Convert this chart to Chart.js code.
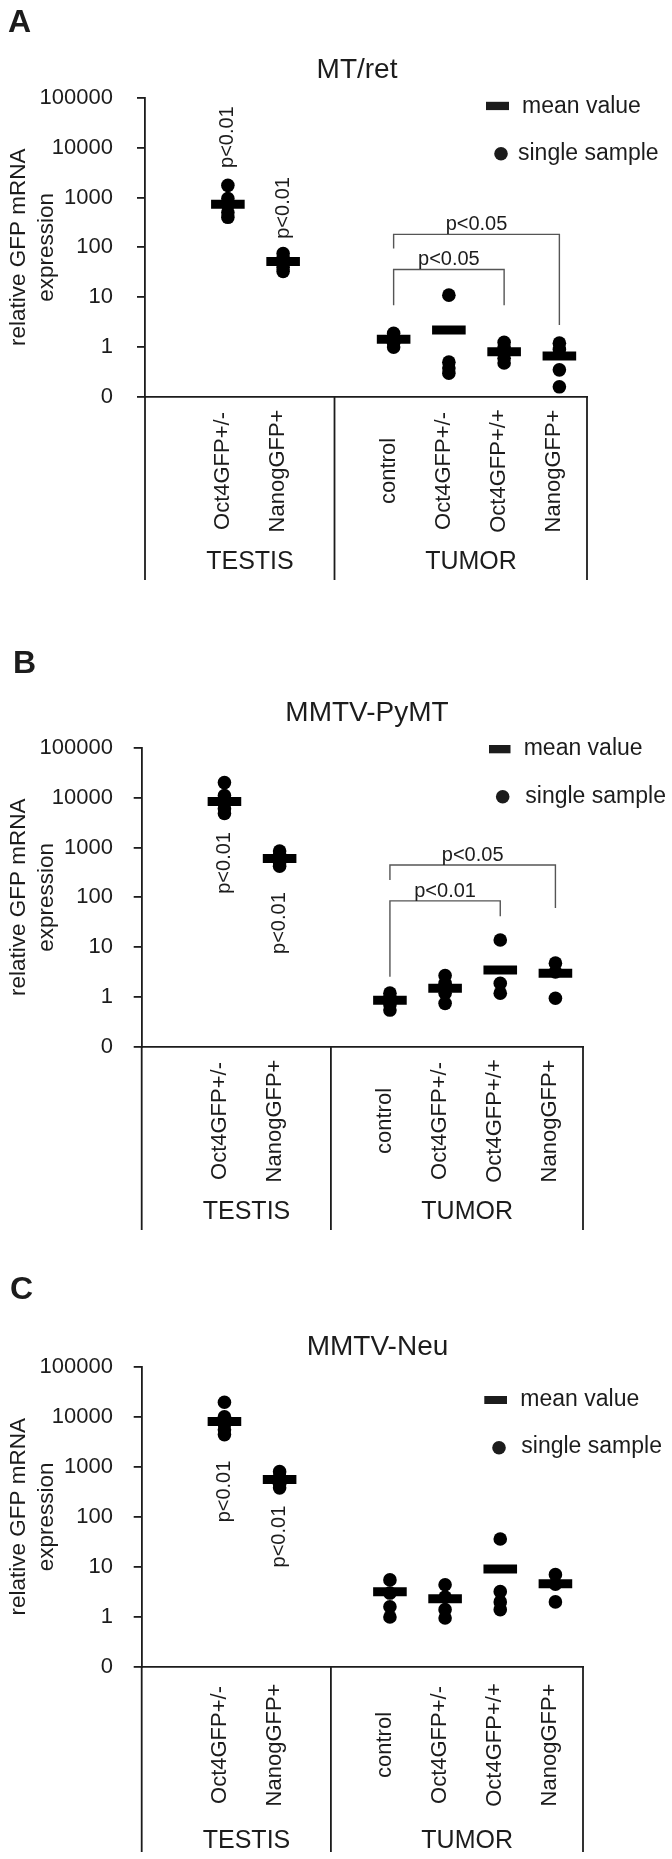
<!DOCTYPE html>
<html>
<head>
<meta charset="utf-8">
<script src="https://cdn.jsdelivr.net/npm/chart.js@4.4.1/dist/chart.umd.min.js"></script>
<style>
  html, body { margin: 0; padding: 0; background: #fff; }
  .panel { position: relative; width: 672px; }
  canvas { display: block; }
</style>
</head>
<body>
<div class="panel" style="height:620px"><canvas id="chart-a"></canvas></div>
<div class="panel" style="height:620px"><canvas id="chart-b"></canvas></div>
<div class="panel" style="height:619px"><canvas id="chart-c"></canvas></div>
<script>
// ---- data ----
var CATEGORIES = ["Oct4GFP+/-", "NanogGFP+", "control", "Oct4GFP+/-", "Oct4GFP+/+", "NanogGFP+"];
var GROUPS = ["TESTIS", "TUMOR"];
var Y_TICKS = [0.1, 1, 10, 100, 1000, 10000, 100000];
var Y_TICK_LABELS = ["0", "1", "10", "100", "1000", "10000", "100000"];
var Y_TITLE = ["relative GFP mRNA", "expression"];
var LEGEND_LABELS = ["mean value", "single sample"];

// single samples per category (same order as CATEGORIES)
var MTRET_SAMPLES = [[1750, 950, 700, 500, 400], [75, 60, 50, 40, 33], [1.9, 1.6, 1.4, 1.2, 1.0], [11, 0.5, 0.38, 0.3], [1.25, 1.0, 0.8, 0.6, 0.48], [1.2, 0.9, 0.35, 0.16]];
var MTRET_MEANS = [730, 52, 1.43, 2.2, 0.81, 0.66];
var PYMT_SAMPLES = [[20000, 11000, 8000, 6000, 4800], [850, 700, 600, 500, 420], [1.2, 1.0, 0.7, 0.55], [2.7, 1.9, 1.2, 0.75], [14, 1.9, 1.2], [4.8, 3.2, 0.95]];
var PYMT_MEANS = [8300, 600, 0.87, 1.5, 3.5, 3.0];
var NEU_SAMPLES = [[19500, 10000, 7000, 5500, 4400], [800, 650, 520, 450, 380], [5.5, 3.0, 1.6, 1.0], [4.4, 2.5, 1.4, 0.95], [36, 3.2, 2.0, 1.4], [7.0, 4.5, 2.0]];
var NEU_MEANS = [8000, 560, 3.2, 2.3, 9.1, 4.6];

// significance marks
var TESTIS_P = ["p<0.01", "p<0.01"];
var MTRET_BRACKETS = [
  { from: 2, to: 5, text: "p<0.05", top: 182, left: 95, right: 2.77 },
  { from: 2, to: 4, text: "p<0.05", top: 36, left: 6.9, right: 6.9 }
];
var PYMT_BRACKETS = [
  { from: 2, to: 5, text: "p<0.05", top: 444, left: 222, right: 61 },
  { from: 2, to: 4, text: "p<0.01", top: 85, left: 2.57, right: 42 }
];

// ---- layout ----
var SLOTS = [1, 2, 4, 5, 6, 7];
var GROUP_SLOTS = [1.4, 5.4];
var DIVIDER_SLOT = 2.93;
var INK = "#1c1c1c";
var BRACKET = "#555555";
var AXIS_W = 1.8;
var FONT = "'Liberation Sans', Arial, Helvetica, sans-serif";

var PANELS = [
  { id: "chart-a", letter: "A", title: "MT/ret", samples: MTRET_SAMPLES, means: MTRET_MEANS,
    pPos: [16200, 617], brackets: MTRET_BRACKETS,
    L: { h: 620, left: 145, right: 587, top: 97.7, bottom: 397, tickPad: 24,
         letter: [8, 32], title: [357, 78], labelMid: 74, groupMid: 165, frame: 183,
         rect: [486, 101.8, 23, 8.3], text1: [522, 113], dot: [501, 153.7], text2: [518, 159.5] } },
  { id: "chart-b", letter: "B", title: "MMTV-PyMT", samples: PYMT_SAMPLES, means: PYMT_MEANS,
    pPos: [490, 30.5], brackets: PYMT_BRACKETS,
    L: { h: 620, left: 141.7, right: 583, top: 127.7, bottom: 427, tickPad: 20.7,
         letter: [13, 53.3], title: [367, 101], labelMid: 74, groupMid: 165, frame: 183,
         rect: [489, 125, 21.5, 8.3], text1: [523.7, 135], dot: [502.7, 176.7], text2: [525.3, 182.7] } },
  { id: "chart-c", letter: "C", title: "MMTV-Neu", samples: NEU_SAMPLES, means: NEU_MEANS,
    pPos: [321, 40.3], brackets: [],
    L: { h: 619, left: 141.7, right: 583, top: 126.7, bottom: 427, tickPad: 20.7,
         letter: [10, 59], title: [377.5, 115], labelMid: 78, groupMid: 174, frame: 185,
         rect: [484.3, 156, 22.7, 8], text1: [520.3, 166], dot: [499, 207.7], text2: [521.3, 213.3] } }
];

Chart.defaults.font.family = FONT;
Chart.defaults.color = INK;

function rotatedText(ctx, text, x, y) {
  ctx.save();
  ctx.translate(x, y);
  ctx.rotate(-Math.PI / 2);
  ctx.fillText(text, 0, 0);
  ctx.restore();
}

function decor(P) {
  return {
    id: "decor",
    afterDraw: function (chart) {
      var ctx = chart.ctx, xs = chart.scales.x, ys = chart.scales.y, area = chart.chartArea, L = P.L;
      var y0 = area.bottom;
      ctx.save();
      ctx.fillStyle = INK;
      ctx.strokeStyle = INK;

      ctx.font = "bold 32px " + FONT;
      ctx.textAlign = "left"; ctx.textBaseline = "alphabetic";
      ctx.fillText(P.letter, L.letter[0], L.letter[1]);

      ctx.font = "28px " + FONT;
      ctx.textAlign = "center";
      ctx.fillText(P.title, L.title[0], L.title[1]);

      // frame under the x axis
      ctx.lineWidth = AXIS_W;
      [area.left, xs.getPixelForValue(DIVIDER_SLOT), area.right].forEach(function (x) {
        ctx.beginPath(); ctx.moveTo(x, y0); ctx.lineTo(x, y0 + L.frame); ctx.stroke();
      });

      ctx.font = "22px " + FONT;
      ctx.textAlign = "center"; ctx.textBaseline = "middle";
      CATEGORIES.forEach(function (c, i) {
        rotatedText(ctx, c, xs.getPixelForValue(SLOTS[i]) - 5, y0 + L.labelMid);
      });

      ctx.font = "25px " + FONT;
      GROUPS.forEach(function (g, i) {
        ctx.fillText(g, xs.getPixelForValue(GROUP_SLOTS[i]), y0 + L.groupMid);
      });

      // testis p values
      ctx.font = "20px " + FONT;
      TESTIS_P.forEach(function (t, i) {
        rotatedText(ctx, t, xs.getPixelForValue(SLOTS[i]), ys.getPixelForValue(P.pPos[i]));
      });

      // brackets
      ctx.strokeStyle = BRACKET;
      ctx.lineWidth = 1.4;
      ctx.textBaseline = "alphabetic";
      P.brackets.forEach(function (b) {
        var x1 = xs.getPixelForValue(SLOTS[b.from]), x2 = xs.getPixelForValue(SLOTS[b.to]);
        var yt = ys.getPixelForValue(b.top);
        ctx.beginPath();
        ctx.moveTo(x1, ys.getPixelForValue(b.left));
        ctx.lineTo(x1, yt);
        ctx.lineTo(x2, yt);
        ctx.lineTo(x2, ys.getPixelForValue(b.right));
        ctx.stroke();
        ctx.fillText(b.text, (x1 + x2) / 2, yt - 4);
      });

      // legend
      ctx.fillStyle = INK;
      ctx.fillRect(L.rect[0], L.rect[1], L.rect[2], L.rect[3]);
      ctx.beginPath(); ctx.arc(L.dot[0], L.dot[1], 6.8, 0, Math.PI * 2); ctx.fill();
      ctx.font = "23px " + FONT;
      ctx.textAlign = "left";
      ctx.fillText(LEGEND_LABELS[0], L.text1[0], L.text1[1]);
      ctx.fillText(LEGEND_LABELS[1], L.text2[0], L.text2[1]);
      ctx.restore();
    }
  };
}

PANELS.forEach(function (P) {
  var L = P.L;
  var dots = [], bars = [];
  P.samples.forEach(function (list, i) {
    list.forEach(function (v) { dots.push({ x: SLOTS[i], y: v }); });
  });
  P.means.forEach(function (v, i) { bars.push({ x: SLOTS[i], y: v }); });

  new Chart(document.getElementById(P.id), {
    type: "scatter",
    data: {
      datasets: [
        { label: LEGEND_LABELS[1], data: dots, pointStyle: "circle", pointRadius: 6.8,
          backgroundColor: "#000", borderWidth: 0 },
        { label: LEGEND_LABELS[0], data: bars, pointStyle: "line", pointRadius: 16.8,
          borderColor: "#000", pointBorderWidth: 9 }
      ]
    },
    options: {
      responsive: true, maintainAspectRatio: false, animation: false, events: [],
      layout: { padding: { left: 0, top: L.top, right: 672 - L.right, bottom: L.h - L.bottom } },
      plugins: { legend: { display: false }, tooltip: { enabled: false } },
      scales: {
        x: {
          type: "linear", min: -0.5, max: 7.5,
          grid: { display: false, drawTicks: false },
          ticks: { display: false },
          border: { display: true, color: INK, width: AXIS_W }
        },
        y: {
          type: "logarithmic", min: 0.1, max: 100000,
          afterBuildTicks: function (s) { s.ticks = Y_TICKS.map(function (v) { return { value: v }; }); },
          afterFit: function (s) { s.width = L.left; },
          grid: { display: true, drawOnChartArea: false, drawTicks: true, tickLength: 8, color: INK, lineWidth: AXIS_W },
          border: { display: true, color: INK, width: AXIS_W },
          ticks: {
            padding: L.tickPad, color: INK, font: { size: 22 },
            callback: function (v) { var i = Y_TICKS.indexOf(v); return i < 0 ? null : Y_TICK_LABELS[i]; }
          },
          title: { display: true, text: Y_TITLE, color: INK, font: { size: 22.5, lineHeight: 1.25 }, padding: { top: 5, bottom: 0 } }
        }
      }
    },
    plugins: [decor(P)]
  });
});
</script>
</body>
</html>
